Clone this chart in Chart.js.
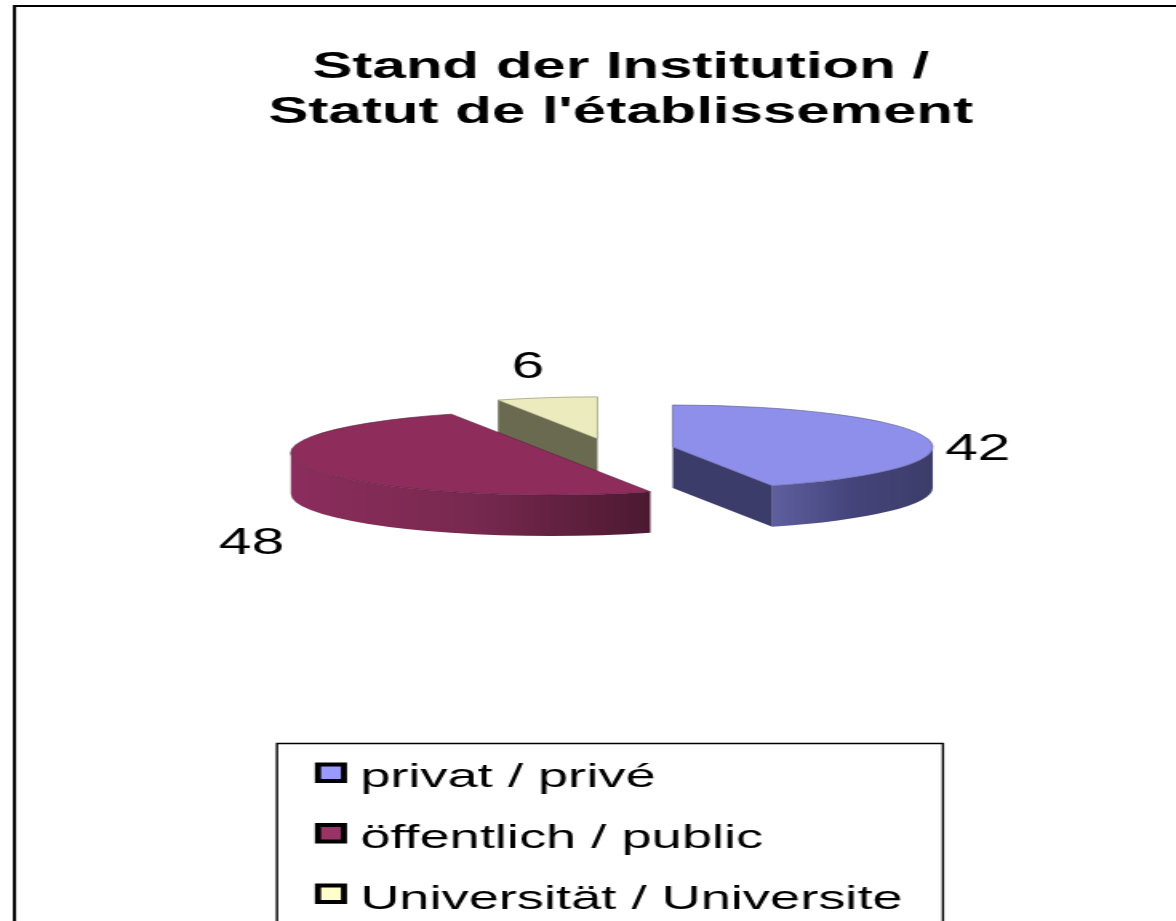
<!DOCTYPE html>
<html>
<head>
<meta charset="utf-8">
<style>
html,body{margin:0;padding:0;background:#fff;overflow:hidden}
canvas{display:block}
</style>
<script src="https://cdn.jsdelivr.net/npm/chart.js@4"></script>
</head>
<body>
<canvas id="c" width="735" height="921" style="width:1176px;height:921px"></canvas>
<script>
const titleLines = ["Stand der Institution /", "Statut de l'établissement"];
const categories = ["privat / privé", "öffentlich / public", "Universität / Universite"];
const values = [42, 48, 6];
const topColors = ["#8e8eeb", "#8e2d5c", "#ebebbd"];
const edgeColors = ["#5a5a90", "#5e1d3d", "#8c8c6c"];
const legendColors = ["#9999ff", "#993366", "#ffffcc"];
const wallStops = [["#5f5fa0", "#44447a", "#3d3d6b"], ["#8c2d5d", "#78294f", "#4c1932"], ["#6b6b4f", "#6b6b4f", "#6b6b4f"]];
const faceColors = ["#3c3c6b", "#4c1932", "#6a6a50"];

const SX = 1.6;                 // canvas is stretched horizontally by CSS
const RADIUS = 260 / SX;
const SQUASH = 42 / RADIUS;
const EXPLODE = 64 / SX;
const DEPTH = 41;
const CENTER = {x: 610 / SX, y: 449};
const LABEL_SHIFT = [[50 / SX, 11], [-59 / SX, 75], [-19 / SX, -30]];

function sliceCenter(el) {
  const mid = (el.startAngle + el.endAngle) / 2;
  return {x: CENTER.x + Math.cos(mid) * EXPLODE, y: CENTER.y + Math.sin(mid) * EXPLODE * SQUASH};
}
function rimPoint(c, a) {
  return {x: c.x + Math.cos(a) * RADIUS, y: c.y + Math.sin(a) * RADIUS * SQUASH};
}
function drawFace(ctx, c, a, color) {
  const p = rimPoint(c, a);
  ctx.beginPath();
  ctx.moveTo(c.x, c.y);
  ctx.lineTo(p.x, p.y);
  ctx.lineTo(p.x, p.y + DEPTH);
  ctx.lineTo(c.x, c.y + DEPTH);
  ctx.closePath();
  ctx.fillStyle = color;
  ctx.fill();
}
function drawWall(ctx, c, a0, a1, stops) {
  const from = Math.max(a0, 0), to = Math.min(a1, Math.PI);
  if (to <= from) return;
  const xa = rimPoint(c, from).x, xb = rimPoint(c, to).x;
  const g = ctx.createLinearGradient(Math.min(xa, xb), 0, Math.max(xa, xb), 0);
  if (xb < xa) {
    g.addColorStop(0, stops[0]); g.addColorStop(0.5, stops[1]); g.addColorStop(1, stops[2]);
  } else {
    g.addColorStop(0, stops[0]); g.addColorStop(0.25, stops[1]); g.addColorStop(1, stops[2]);
  }
  ctx.beginPath();
  ctx.ellipse(c.x, c.y, RADIUS, RADIUS * SQUASH, 0, from, to, false);
  ctx.ellipse(c.x, c.y + DEPTH, RADIUS, RADIUS * SQUASH, 0, to, from, true);
  ctx.closePath();
  ctx.fillStyle = g;
  ctx.fill();
}

const pie3d = {
  id: "pie3d",
  afterLayout(chart) {
    const lg = chart.legend;
    lg.left = 181.2;
    lg.right = 600;
    lg.top = 734;
    lg.bottom = 1300;
  },
  beforeDraw(chart) {
    const ctx = chart.ctx;
    ctx.save();
    ctx.fillStyle = "#fff";
    ctx.fillRect(0, 0, chart.width, chart.height);
    ctx.strokeStyle = "#000";
    // outer frame
    ctx.lineWidth = 2;
    ctx.beginPath();
    ctx.moveTo(14.5 / SX, 950); ctx.lineTo(14.5 / SX, 6); ctx.lineTo(800, 6);
    ctx.stroke();
    // legend frame
    ctx.lineWidth = 1.4;
    ctx.beginPath();
    ctx.moveTo(277 / SX, 950); ctx.lineTo(277 / SX, 743.5); ctx.lineTo(943 / SX, 743.5); ctx.lineTo(943 / SX, 950);
    ctx.stroke();
    // legend swatches
    legendColors.forEach((col, i) => {
      ctx.beginPath();
      ctx.rect(318 / SX, 764.5 + i * 60.5, 26 / SX, 16.5);
      ctx.fillStyle = col;
      ctx.fill();
      ctx.lineWidth = 3.8;
      ctx.strokeStyle = "#000";
      ctx.stroke();
    });
    ctx.restore();
  },
  beforeDatasetsDraw(chart) {
    const ctx = chart.ctx;
    const arcs = chart.getDatasetMeta(0).data;
    [2, 1, 0].forEach(i => {
      const el = arcs[i];
      const c = sliceCenter(el);
      const a0 = el.startAngle, a1 = el.endAngle;
      drawWall(ctx, c, a0, a1, wallStops[i]);
      if (Math.sin(a0 - Math.PI / 2) > 0.01) drawFace(ctx, c, a0, faceColors[i]);
      if (Math.sin(a1 + Math.PI / 2) > 0.01) drawFace(ctx, c, a1, faceColors[i]);
      ctx.save();
      ctx.translate(c.x, c.y);
      ctx.scale(1, SQUASH);
      ctx.translate(-el.x, -el.y);
      el.draw(ctx);
      ctx.restore();
    });
    return false;
  },
  afterDraw(chart) {
    const ctx = chart.ctx;
    const arcs = chart.getDatasetMeta(0).data;
    ctx.save();
    ctx.font = "36.8px 'Liberation Sans', Arial, sans-serif";
    ctx.fillStyle = "#000";
    ctx.textAlign = "center";
    ctx.textBaseline = "middle";
    arcs.forEach((el, i) => {
      const c = sliceCenter(el);
      const p = rimPoint(c, (el.startAngle + el.endAngle) / 2);
      ctx.fillText(String(values[i]), p.x + LABEL_SHIFT[i][0], p.y + LABEL_SHIFT[i][1]);
    });
    ctx.restore();
  }
};

new Chart(document.getElementById("c"), {
  type: "pie",
  data: {
    labels: categories,
    datasets: [{
      data: values,
      backgroundColor: topColors,
      borderColor: edgeColors,
      borderWidth: 1
    }]
  },
  options: {
    responsive: false,
    animation: false,
    radius: RADIUS,
    layout: {padding: {left: 41}},
    plugins: {
      tooltip: {enabled: false},
      title: {
        display: true,
        text: titleLines,
        color: "#000",
        padding: {top: 45, bottom: 10},
        font: {family: "'Liberation Sans', Arial, sans-serif", size: 37.5, weight: "bold", lineHeight: 45 / 37.5}
      },
      legend: {
        display: true,
        position: "left",
        align: "start",
        labels: {
          boxWidth: 0,
          boxHeight: 0,
          padding: 27,
          color: "#000",
          font: {family: "'Liberation Sans', Arial, sans-serif", size: 33.9}
        }
      }
    }
  },
  plugins: [pie3d]
});
</script>
</body>
</html>
